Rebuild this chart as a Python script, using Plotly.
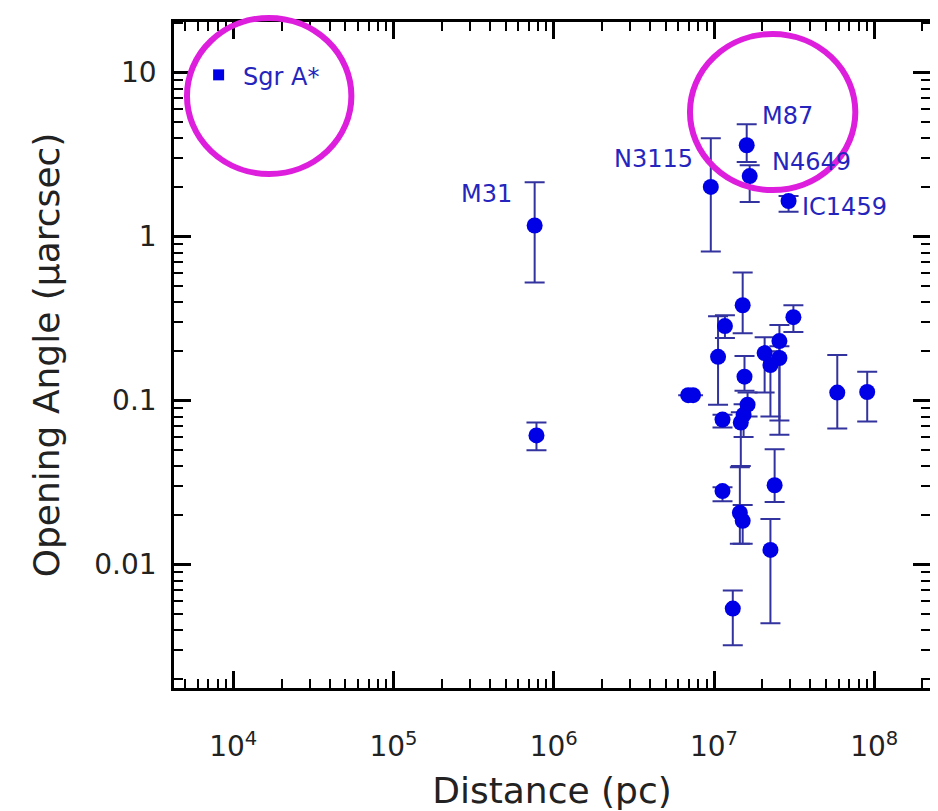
import numpy as np
import plotly.graph_objects as go

# ---------------- data ----------------
sgr_name = "Sgr A*"
sgr_dist = [8.1e3]
sgr_angle = [9.7]

label_names = ["M31", "N3115", "M87", "N4649", "IC1459"]
label_dist = [7.6e5, 9.55e6, 1.60e7, 1.67e7, 2.92e7]
label_angle = [1.17, 2.01, 3.61, 2.34, 1.65]
label_hi = [2.15, 3.98, 4.84, 2.73, 1.77]
label_lo = [0.526, 0.811, 2.85, 1.63, 1.42]

other_dist = [7.8e5, 6.9e6, 7.4e6, 1.06e7, 1.17e7, 1.13e7, 1.13e7, 1.51e7,
              1.55e7, 1.62e7, 1.53e7, 1.47e7, 1.45e7, 1.51e7, 2.07e7, 2.25e7,
              2.56e7, 2.56e7, 3.13e7, 2.39e7, 2.25e7, 1.31e7, 5.88e7, 9.04e7]
other_angle = [0.0614, 0.108, 0.108, 0.185, 0.285, 0.0767, 0.0281, 0.382,
               0.140, 0.0946, 0.082, 0.0736, 0.0207, 0.0185, 0.195, 0.165,
               0.231, 0.182, 0.323, 0.0305, 0.0123, 0.0054, 0.112, 0.113]
other_hi = [0.0736, 0.108, 0.108, 0.327, 0.332, 0.082, 0.0297, 0.605,
            0.187, 0.112, 0.095, 0.085, 0.0393, 0.0231, 0.244, 0.20,
            0.289, 0.215, 0.382, 0.0505, 0.0190, 0.00695, 0.190, 0.150]
other_lo = [0.0498, 0.108, 0.108, 0.0946, 0.241, 0.0686, 0.0244, 0.258,
            0.115, 0.080, 0.060, 0.040, 0.0134, 0.0134, 0.112, 0.080,
            0.0756, 0.062, 0.262, 0.0241, 0.00439, 0.00323, 0.0676, 0.0746]

x_tickvals = [1e4, 1e5, 1e6, 1e7, 1e8]
x_ticktext = ["10<sup>4</sup>", "10<sup>5</sup>", "10<sup>6</sup>", "10<sup>7</sup>", "10<sup>8</sup>"]
y_tickvals = [0.01, 0.1, 1, 10]
y_ticktext = ["0.01", "0.1", "1", "10"]

# highlight circles (log10-space centre and radii)
circle_centres = [(4.224, 0.858), (7.366, 0.760)]
circle_radii = [(0.513, 0.476), (0.516, 0.476)]

# ---------------- styling ----------------
FONT = "DejaVu Sans"
BLUE = "#0000E6"
ERR = "#33339F"
LABEL = "#2525BD"
MAGENTA = "#DD1FDD"

label_shift = {  # (xshift, yshift, xanchor)
    "M31": (-21, 31, "right"),
    "N3115": (-16, 28, "right"),
    "M87": (13, 29, "left"),
    "N4649": (20, 14, "left"),
    "IC1459": (11, -6, "left"),
}

xr = [3.630, 8.348]
yr = [-2.752, 1.309]

minor_x = [k * 10.0 ** d for d in range(3, 9) for k in range(2, 10)
           if xr[0] <= np.log10(k * 10.0 ** d) <= xr[1]]
minor_y = [k * 10.0 ** d for d in range(-3, 2) for k in range(2, 10)
           if yr[0] <= np.log10(k * 10.0 ** d) <= yr[1]]

fig = go.Figure()

def err(y, hi, lo):
    y = np.array(y); hi = np.array(hi); lo = np.array(lo)
    return dict(type="data", symmetric=False, array=hi - y, arrayminus=y - lo,
                color=ERR, thickness=2, width=10)

fig.add_trace(go.Scatter(x=other_dist, y=other_angle, mode="markers",
                         marker=dict(size=16, color=BLUE),
                         error_y=err(other_angle, other_hi, other_lo),
                         showlegend=False, hoverinfo="skip"))
fig.add_trace(go.Scatter(x=label_dist, y=label_angle, mode="markers",
                         marker=dict(size=16, color=BLUE),
                         error_y=err(label_angle, label_hi, label_lo),
                         showlegend=False, hoverinfo="skip"))
fig.add_trace(go.Scatter(x=sgr_dist, y=sgr_angle, mode="markers",
                         marker=dict(size=11, color=BLUE, symbol="square"),
                         showlegend=False, hoverinfo="skip"))

annotations = []
for n, xv, yv in zip(label_names, label_dist, label_angle):
    xs, ys, xa = label_shift[n]
    annotations.append(dict(x=np.log10(xv), y=np.log10(yv), text=n, showarrow=False,
                            xanchor=xa, yanchor="middle", xshift=xs, yshift=ys,
                            font=dict(family=FONT, size=24, color=LABEL)))
annotations.append(dict(x=np.log10(sgr_dist[0]), y=np.log10(sgr_angle[0]), text=sgr_name,
                        showarrow=False, xanchor="left", yanchor="middle", xshift=22, yshift=-2,
                        font=dict(family=FONT, size=24, color=LABEL)))

def to_paper(v, r):
    return (v - r[0]) / (r[1] - r[0])

shapes = []
for (cx, cy), (rx, ry) in zip(circle_centres, circle_radii):
    shapes.append(dict(type="circle", xref="paper", yref="paper",
                       x0=to_paper(cx - rx, xr), x1=to_paper(cx + rx, xr),
                       y0=to_paper(cy - ry, yr), y1=to_paper(cy + ry, yr),
                       line=dict(color=MAGENTA, width=6), layer="above"))

axis_common = dict(type="log", showline=True, linecolor="black", linewidth=2.5,
                   mirror="ticks", ticks="inside", ticklen=17, tickwidth=2.5,
                   tickcolor="black", showgrid=False, zeroline=False,
                   tickfont=dict(family=FONT, size=28, color="#222222"))

fig.update_layout(
    width=928, height=803,
    margin=dict(l=166, r=3, t=14, b=119),
    paper_bgcolor="white", plot_bgcolor="white",
    xaxis=dict(**axis_common, range=xr, tickmode="array", tickvals=x_tickvals,
               ticktext=x_ticktext, ticklabelstandoff=32,
               minor=dict(tickmode="array", tickvals=minor_x, ticks="inside",
                          ticklen=9, tickwidth=2, tickcolor="black", showgrid=False),
               title=dict(text="Distance (pc)", standoff=19,
                          font=dict(family=FONT, size=36, color="#222222"))),
    yaxis=dict(**axis_common, range=yr, tickmode="array", tickvals=y_tickvals,
               ticktext=y_ticktext, ticklabelstandoff=9,
               minor=dict(tickmode="array", tickvals=minor_y, ticks="inside",
                          ticklen=9, tickwidth=2, tickcolor="black", showgrid=False),
               title=dict(text="Opening Angle (µarcsec)", standoff=24,
                          font=dict(family=FONT, size=36, color="#222222"))),
    annotations=annotations,
    shapes=shapes,
    showlegend=False,
)

fig.write_html("out.html")
